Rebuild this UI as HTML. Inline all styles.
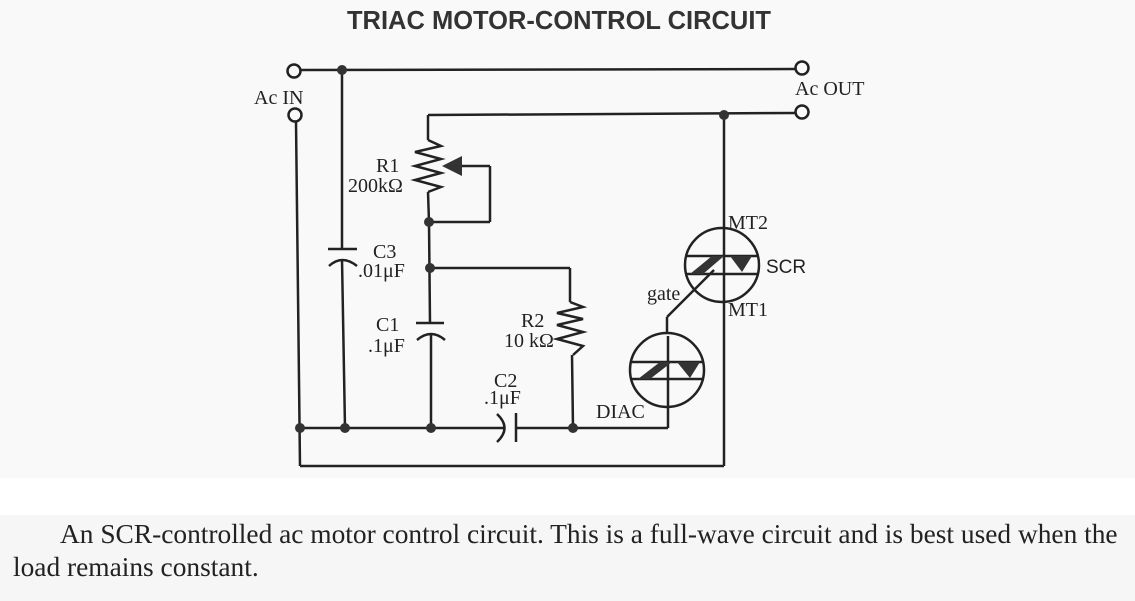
<!DOCTYPE html>
<html><head><style>
html,body{margin:0;padding:0;width:1135px;height:601px;overflow:hidden;background:#f9f9f9;}
.cap{position:absolute;left:0;top:515px;width:1135px;height:86px;background:#f6f6f6;}
.band{position:absolute;left:0;top:478px;width:1135px;height:37px;background:#fff;}
.t{font-family:"Liberation Serif",serif;font-size:27.4px;color:#222;position:absolute;white-space:nowrap;}
</style></head><body>
<div class="band"></div><div class="cap"></div>
<div class="t" style="left:60px;top:519px;">An SCR-controlled ac motor control circuit. This is a full-wave circuit and is best used when the</div>
<div class="t" style="left:13px;top:552px;">load remains constant.</div>
<svg width="1135" height="480" style="position:absolute;left:0;top:0" xmlns="http://www.w3.org/2000/svg">
<g font-family="Liberation Sans,sans-serif" font-weight="bold" font-size="25.5" fill="#333">
<text x="559" y="29" text-anchor="middle">TRIAC MOTOR-CONTROL CIRCUIT</text></g>
<g stroke="#222" stroke-width="2.5" fill="none">
<circle cx="294" cy="71" r="6.5"/>
<line x1="300" y1="70" x2="796" y2="69"/>
<circle cx="802" cy="68" r="6.5"/>
<circle cx="295" cy="115" r="6.5"/>
<line x1="296" y1="122" x2="300" y2="466"/>
<line x1="300" y1="466" x2="724" y2="466"/>
<line x1="428" y1="115" x2="796" y2="113"/>
<circle cx="802" cy="112" r="6.5"/>
<line x1="724" y1="114" x2="724" y2="466"/>
<line x1="342" y1="70" x2="342" y2="249"/>
<line x1="328" y1="249" x2="357" y2="249"/>
<path d="M329 266 Q342 254 357 266"/>
<line x1="342" y1="259" x2="345" y2="428"/>
<line x1="428" y1="115" x2="428" y2="140"/>
<path d="M428 140 L441 146 L415 152 L441 159 L415 166 L441 173 L415 180 L441 187 L428 192"/>
<line x1="428" y1="192" x2="429" y2="222"/>
<line x1="429" y1="222" x2="490" y2="222"/>
<line x1="490" y1="222" x2="490" y2="166"/>
<line x1="490" y1="166" x2="460" y2="166"/>
<line x1="429" y1="222" x2="430" y2="323"/>
<line x1="430" y1="268" x2="570" y2="268"/>
<line x1="416" y1="323" x2="444" y2="323"/>
<path d="M417 340 Q431 328 445 340"/>
<line x1="431" y1="333" x2="431" y2="428"/>
<line x1="570" y1="268" x2="570" y2="302"/>
<path d="M570 302 L583 307 L557 313 L583 319 L557 325 L583 332 L557 339 L583 346 L573 355"/>
<line x1="572" y1="355" x2="573" y2="428"/>
<line x1="300" y1="428" x2="505" y2="428"/>
<path d="M497 414 Q512 428 497 442"/>
<line x1="516" y1="413" x2="516" y2="442"/>
<line x1="516" y1="428" x2="668" y2="428"/>
<line x1="668" y1="428" x2="668" y2="336"/>
<circle cx="667" cy="370" r="37"/>
<line x1="630" y1="362" x2="704" y2="362"/>
<line x1="630" y1="379" x2="704" y2="379"/>
<line x1="667" y1="333" x2="667" y2="317"/>
<line x1="667" y1="317" x2="714" y2="270"/>
<circle cx="722" cy="265" r="37"/>
<line x1="685" y1="256" x2="759" y2="256"/>
<line x1="685" y1="274" x2="759" y2="274"/>
</g>
<g fill="#333">
<polygon points="690,274 712,256 724,256 703,274"/>
<polygon points="730,256 752,256 742,272"/>
<polygon points="638,379 660,362 672,362 650,379"/>
<polygon points="677,362 700,362 690,378"/>
<polygon points="442,166 462,156 462,176"/>
<circle cx="342" cy="70" r="5"/><circle cx="724" cy="115" r="5"/>
<circle cx="429" cy="222" r="5"/><circle cx="430" cy="268" r="5"/>
<circle cx="300" cy="428" r="5"/><circle cx="345" cy="428" r="5"/>
<circle cx="431" cy="428" r="5"/><circle cx="573" cy="428" r="5"/>
</g>
<g font-family="Liberation Serif,serif" font-size="20" fill="#222">
<text x="254" y="104">Ac IN</text>
<text x="795" y="95">Ac OUT</text>
<text x="376" y="172">R1</text>
<text x="348" y="192">200kΩ</text>
<text x="373" y="258">C3</text>
<text x="358" y="277">.01μF</text>
<text x="376" y="331">C1</text>
<text x="368" y="352">.1μF</text>
<text x="521" y="327">R2</text>
<text x="504" y="347">10 kΩ</text>
<text x="494" y="387">C2</text>
<text x="484" y="404">.1μF</text>
<text x="728" y="229">MT2</text>
<text x="766" y="273" font-family="Liberation Sans,sans-serif" font-size="19">SCR</text>
<text x="728" y="316">MT1</text>
<text x="647" y="300">gate</text>
<text x="596" y="418">DIAC</text>
</g>
</svg>
</body></html>
